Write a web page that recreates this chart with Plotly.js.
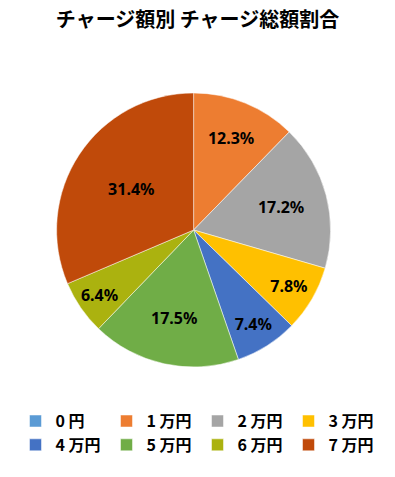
<!DOCTYPE html>
<html><head><meta charset="utf-8">
<script src="https://cdn.plot.ly/plotly-3.0.1.min.js"></script>
<style>html,body{margin:0;padding:0;background:#fff}#c{width:395px;height:477px}</style>
</head><body><div id="c"></div>
<script>
const categories = ['0 円','1 万円','2 万円','3 万円','4 万円','5 万円','6 万円','7 万円'];
const shares = [0, 12.3, 17.2, 7.8, 7.4, 17.5, 6.4, 31.4];
const colors = ['#5B9BD5','#ED7D31','#A5A5A5','#FFC000','#4472C4','#70AD47','#ABB20F','#C04A0A'];
const labelsText = shares.map(v => v > 0 ? v.toFixed(1) + '%' : '');
const FONT = '"Noto Sans CJK JP", "Noto Sans", sans-serif';

Plotly.newPlot('c', [{
  type: 'pie',
  labels: categories,
  values: shares,
  text: labelsText,
  textinfo: 'text',
  texttemplate: '<b>%{text}</b>',
  textposition: 'inside',
  insidetextorientation: 'horizontal',
  textfont: {family: '"Noto Sans", sans-serif', size: 16, color: '#000'},
  sort: false,
  direction: 'clockwise',
  rotation: 0,
  marker: {colors: colors, line: {color: '#ffffff', width: 0.5}},
  domain: {x: [0.1433, 0.8370], y: [0.2264, 0.8092]},
  hoverinfo: 'label+percent'
}], {
  width: 395, height: 477,
  margin: {l: 0, r: 0, t: 0, b: 0},
  paper_bgcolor: '#fff',
  showlegend: true,
  title: {text: '<b>チャージ額別 チャージ総額割合</b>', font: {family: FONT, size: 20, color: '#000'},
          x: 0.5, xanchor: 'center', y: 0.958, yanchor: 'middle', yref: 'container'},
  legend: {orientation: 'h', x: 0.5, xanchor: 'center', y: 0.092, yanchor: 'middle',
           entrywidth: 46, entrywidthmode: 'pixels', itemwidth: 30, tracegroupgap: 0,
           font: {family: FONT, size: 16, color: '#000', weight: 'bold'}, itemclick: false}
}, {displayModeBar: false, staticPlot: true});
</script></body></html>
